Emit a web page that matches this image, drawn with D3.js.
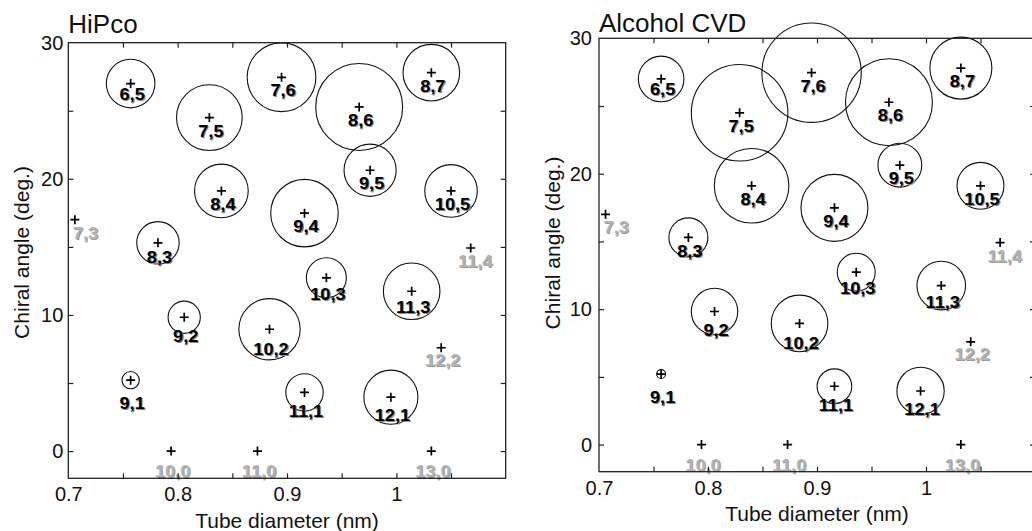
<!DOCTYPE html>
<html>
<head>
<meta charset="utf-8">
<script src="https://cdn.jsdelivr.net/npm/d3@7"></script>
<style>
  body { margin: 0; background: #fff; }
  svg { display: block; }
  text { font-family: "Liberation Sans", Arial, Helvetica, sans-serif; }
</style>
</head>
<body>
<svg id="chart" width="1032" height="531"></svg>
<script>
// (n,m) chiralities shown on the map
const tubes = ["6,5","7,5","7,6","8,6","8,7","8,4","9,4","9,5","10,5","7,3","8,3","10,3","11,3","11,4","9,2","10,2","12,2","9,1","11,1","12,1","10,0","11,0","13,0"];
// tube diameter (nm)
const diameters = [0.757,0.829,0.895,0.966,1.032,0.840,0.916,0.976,1.050,0.706,0.782,0.936,1.014,1.068,0.806,0.884,1.041,0.757,0.916,0.995,0.794,0.873,1.032];
// chiral angle (deg.)
const angles = [27.00,24.50,27.46,25.28,27.80,19.11,17.48,20.63,19.11,17.00,15.30,12.73,11.74,14.92,9.83,8.95,7.59,5.21,4.31,3.96,0,0,0];
// relative PL intensity (circle area); null = not observed
const hipcoIntensity = [5.9,10.8,11.8,18.9,8.0,7.2,11.4,6.8,6.9,null,4.5,4.0,8.0,null,2.6,9.4,null,0.75,3.5,7.3,null,null,null];
const cvdIntensity   = [5.2,23.3,24.7,18.9,9.6,13.9,11.2,4.8,5.5,null,3.8,3.6,5.9,null,5.4,8.0,null,0.2,3.0,5.6,null,null,null];

const panelTitles = ["HiPco", "Alcohol CVD"];
const xTicks = [0.75,0.8,0.85,0.9,0.95,1.0,1.05];
const xTickLabels = [0.7,0.8,0.9,1];
const yTicks = [0,5,10,15,20,25];
const yTickLabels = [0,10,20,30];
const xTitle = "Tube diameter (nm)";
const yTitle = "Chiral angle (deg.)";

// label drop below the marker (px); default used otherwise
const labelDrop = {"6,5":16,"8,3":20,"10,3":22,"11,3":22,"9,2":25,"10,2":26,"9,1":29,"11,1":25,"12,1":24,"10,0":26,"11,0":26,"13,0":26,"7,3":19,"11,4":19,"12,2":18};
const labelShift = {"11,4":3};

const panels = [
  { title: panelTitles[0], values: hipcoIntensity, left: 68.3, right: 505.7, top: 42.7, bottom: 478.3,
    titleY: 33, xTitleY: 528, yTitleX: 29, yTitleDy: -8, yPad: 5, xLabelPad: 9 },
  { title: panelTitles[1], values: cvdIntensity, left: 599, right: 1035, top: 38.3, bottom: 471.7,
    titleY: 31.5, xTitleY: 521, yTitleX: 560, yTitleDy: -12, yPad: 7, xLabelPad: 9 }
];

const svg = d3.select("#chart");
const rScale = d3.scaleSqrt().domain([0, 25]).range([0, 50]);

const data = tubes.map((t, i) => ({ name: t, d: diameters[i], a: angles[i], i }));

panels.forEach(p => {
  const x = d3.scaleLinear().domain([0.7, 1.1]).range([p.left, p.right]);
  const y = d3.scaleLinear().domain([-2, 30]).range([p.bottom, p.top]);
  const g = svg.append("g");

  // intensity circles
  g.append("g").selectAll("circle")
    .data(data.filter(d => p.values[d.i] != null))
    .join("circle")
    .attr("cx", d => x(d.d))
    .attr("cy", d => y(d.a))
    .attr("r", d => rScale(p.values[d.i]))
    .attr("fill", "none")
    .attr("stroke", "#111")
    .attr("stroke-width", 1.1);

  // markers
  g.append("g").selectAll("path")
    .data(data)
    .join("path")
    .attr("d", d => {
      const cx = x(d.d), cy = y(d.a);
      return `M${cx - 4.5},${cy}H${cx + 4.5}M${cx},${cy - 4.5}V${cy + 4.5}`;
    })
    .attr("stroke", "#000")
    .attr("stroke-width", 1.7);

  // chirality labels with a soft shadow
  const lab = g.append("g").selectAll("g")
    .data(data)
    .join("g")
    .attr("transform", d => {
      const dx = (labelShift[d.name] || 0) + (d.name === "7,3" ? -2 : 1.5);
      const dy = labelDrop[d.name] != null ? labelDrop[d.name] : 19;
      return `translate(${x(d.d) + dx},${y(d.a) + dy}) scale(1.07,1)`;
    });
  const anchor = d => d.name === "7,3" ? "start" : "middle";
  lab.append("text")
    .attr("x", 1).attr("y", 1)
    .attr("text-anchor", anchor)
    .attr("font-size", 17).attr("font-weight", "bold")
    .attr("fill", d => p.values[d.i] == null ? "#9a9a9a" : "#8a8a8a")
    .text(d => d.name);
  lab.append("text")
    .attr("text-anchor", anchor)
    .attr("font-size", 17).attr("font-weight", "bold")
    .attr("fill", d => p.values[d.i] == null ? "#b4b4b4" : "#000")
    .text(d => d.name);

  // frame
  g.append("rect")
    .attr("x", p.left).attr("y", p.top)
    .attr("width", p.right - p.left).attr("height", p.bottom - p.top)
    .attr("fill", "none").attr("stroke", "#222").attr("stroke-width", 1.3);

  // inward ticks on all four sides
  const tickStyle = sel => {
    sel.select(".domain").remove();
    sel.selectAll(".tick line").attr("stroke", "#222").attr("stroke-width", 1.2);
    sel.selectAll(".tick text").remove();
  };
  g.append("g").attr("transform", `translate(0,${p.bottom})`)
    .call(d3.axisBottom(x).tickValues(xTicks).tickSize(-5)).call(tickStyle);
  g.append("g").attr("transform", `translate(0,${p.top})`)
    .call(d3.axisTop(x).tickValues(xTicks).tickSize(-5)).call(tickStyle);
  g.append("g").attr("transform", `translate(${p.left},0)`)
    .call(d3.axisLeft(y).tickValues(yTicks).tickSize(-5)).call(tickStyle);
  g.append("g").attr("transform", `translate(${p.right},0)`)
    .call(d3.axisRight(y).tickValues(yTicks).tickSize(-5)).call(tickStyle);

  // tick labels
  const labStyle = sel => {
    sel.select(".domain").remove();
    sel.selectAll(".tick line").remove();
    sel.selectAll(".tick text").attr("font-size", 20).attr("fill", "#111")
      .style("font-family", '"Liberation Sans", Arial, sans-serif');
  };
  g.append("g").attr("transform", `translate(0,${p.bottom})`)
    .call(d3.axisBottom(x).tickValues(xTickLabels).tickSize(0).tickPadding(p.xLabelPad).tickFormat(d => String(d)))
    .call(labStyle);
  g.append("g").attr("transform", `translate(${p.left},0)`)
    .call(d3.axisLeft(y).tickValues(yTickLabels).tickSize(0).tickPadding(p.yPad).tickFormat(d => String(d)))
    .call(labStyle);

  // titles
  g.append("text")
    .attr("x", p.left).attr("y", p.titleY)
    .attr("font-size", 26).attr("fill", "#111")
    .text(p.title);
  g.append("text")
    .attr("x", (p.left + p.right) / 2).attr("y", p.xTitleY)
    .attr("text-anchor", "middle").attr("font-size", 21).attr("fill", "#111")
    .text(xTitle);
  g.append("text")
    .attr("transform", `translate(${p.yTitleX},${(p.top + p.bottom) / 2 + p.yTitleDy}) rotate(-90)`)
    .attr("text-anchor", "middle").attr("font-size", 21).attr("fill", "#111")
    .text(yTitle);
});
</script>
</body>
</html>
